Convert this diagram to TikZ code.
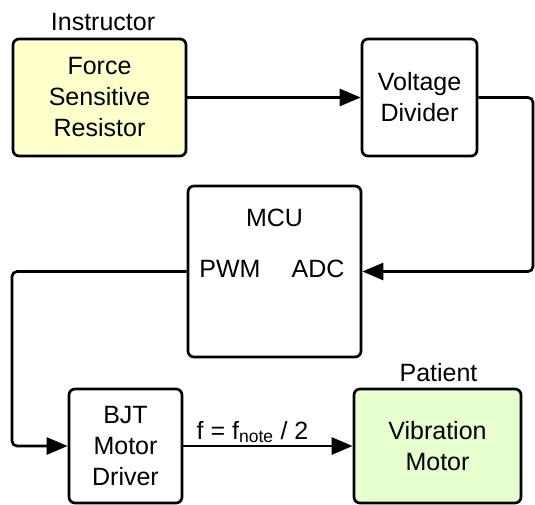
\documentclass[tikz,border=0pt]{standalone}
\usepackage{fontspec}
\setmainfont{Liberation Sans}
\usetikzlibrary{arrows.meta}

% Fill colours of the two end blocks
\definecolor{fsryellow}{RGB}{255,255,204}
\definecolor{motorgreen}{RGB}{230,255,204}

\begin{document}
\begin{tikzpicture}[x=1pt, y=1pt,
  block/.style={draw, line width=2.7pt, rounded corners=6pt, align=center,
    inner sep=0pt, font=\fontsize{25}{31}\selectfont},
  wire/.style={line width=2.7pt, rounded corners=5pt,
    -{Triangle[length=21pt,width=17pt]}},
  tag/.style={font=\fontsize{25}{31}\selectfont, inner sep=0pt}]

\useasboundingbox (0,0) rectangle (535,504);

% Define block sizes
\def\bh{117pt}  % height of the top row
\def\lh{114pt}  % height of the bottom row

% Top row: sensor and divider
\node[block, fill=fsryellow, minimum width=173pt, minimum height=\bh] (fsr) at (99.5,406.5) {Force\\Sensitive\\Resistor};
\node[block, minimum width=115pt, minimum height=\bh] (vd) at (419.5,406.5) {Voltage\\Divider};

% Middle: the microcontroller with its two pins
\node[block, minimum width=173pt, minimum height=171pt] (mcu) at (274.5,232.5) {};
\node[tag] (mcutxt) at (274.5,286.5) {MCU};
\node[tag] (pwm) at (230,235) {PWM};
\node[tag] (adc) at (318,235) {ADC};

% Bottom row: driver and motor
\node[block, minimum width=113pt, minimum height=\lh] (bjt) at (125.5,58) {BJT\\Motor\\Driver};
\node[block, fill=motorgreen, minimum width=167pt, minimum height=\lh] (vm) at (437.5,58) {Vibration\\Motor};

% Who holds which end
\node[tag, anchor=base] (instr) at (103,473) {Instructor};
\node[tag, anchor=base] (patient) at (438.5,123) {Patient};

% Bends of the two return wires
\coordinate (rbend) at (533,320);
\coordinate (lbend) at (12,150);

% Signal path
\draw[wire] (fsr) -- (vd);
\draw[wire] (vd.east) -| (rbend) |- (mcu.east);
\draw[wire] (mcu.west) -| (lbend) |- (bjt.west);
\draw[wire] (bjt) -- (vm);
\node[tag, anchor=base] (freq) at (252.5,65) {f = f\textsubscript{note} / 2};

\end{tikzpicture}
\end{document}
